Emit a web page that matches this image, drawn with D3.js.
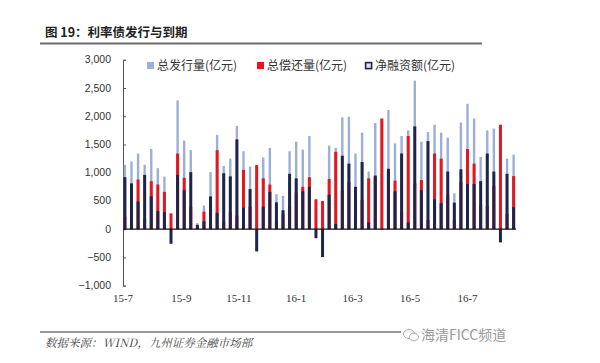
<!DOCTYPE html>
<html lang="zh">
<head>
<meta charset="UTF-8">
<title>利率债发行与到期</title>
<script src="https://d3js.org/d3.v7.min.js"></script>
<style>
  body { margin: 0; background: #fff; }
  svg { display: block; }
</style>
</head>
<body>
<svg width="600" height="363"></svg>
<script>
// weekly dates
const dates = [
  '2015-07-03','2015-07-10','2015-07-17','2015-07-24','2015-07-31',
  '2015-08-07','2015-08-14','2015-08-21','2015-08-28',
  '2015-09-04','2015-09-11','2015-09-18','2015-09-25',
  '2015-10-02','2015-10-09','2015-10-16','2015-10-23','2015-10-30',
  '2015-11-06','2015-11-13','2015-11-20','2015-11-27',
  '2015-12-04','2015-12-11','2015-12-18','2015-12-25',
  '2016-01-01','2016-01-08','2016-01-15','2016-01-22','2016-01-29',
  '2016-02-05','2016-02-12','2016-02-19','2016-02-26',
  '2016-03-04','2016-03-11','2016-03-18','2016-03-25',
  '2016-04-01','2016-04-08','2016-04-15','2016-04-22','2016-04-29',
  '2016-05-06','2016-05-13','2016-05-20','2016-05-27',
  '2016-06-03','2016-06-10','2016-06-17','2016-06-24',
  '2016-07-01','2016-07-08','2016-07-15','2016-07-22','2016-07-29',
  '2016-08-05','2016-08-12','2016-08-19'
];

// 总发行量(亿元)
const issuance = [
  1140, 1200, 1340, 1140, 1420, 1080, 930, 20, 2280, 1570,
  1400, 106, 420, 1010, 1670, 1120, 1250, 1830, 1380, 1110,
  740, 1270, 1440, 620, 590, 1380, 1550, 1410, 1650, 370,
  10, 1480, 1440, 1980, 1990, 1340, 1710, 1020, 1880, 1950,
  2110, 1520, 1650, 1750, 2630, 1550, 1720, 1850, 1710, 1620,
  635, 1890, 2220, 1960, 1280, 1750, 1780, 1620, 1250, 1320
];

// 总偿还量(亿元)
const repayment = [
  220, 390, 880, 180, 850, 790, 660, 280, 1340, 910,
  390, 30, 310, 430, 1400, 130, 310, 240, 1050, 400,
  1135, 900, 790, 140, 255, 400, 650, 750, 920, 530,
  500, 890, 1370, 680, 830, 590, 520, 900, 930, 1960,
  1040, 860, 310, 1650, 810, 870, 160, 1340, 1250, 600,
  165, 830, 1420, 1160, 430, 410, 760, 1850, 270, 940
];

// 净融资额(亿元)
const netFinancing = [
  920, 810, 490, 960, 580, 320, 300, -260, 960, 690,
  1010, 76, 140, 580, 290, 990, 935, 1590, 380, 710,
  -395, 400, 660, 475, 335, 980, 900, 670, 750, -160,
  -495, 610, 90, 1300, 1160, 750, 1190, 120, 950, -10,
  1070, 670, 1340, 120, 1820, 690, 1560, 530, 460, 1020,
  470, 1060, 800, 800, 850, 1340, 1020, -235, 980, 390
];

const yTicks = [3000, 2500, 2000, 1500, 1000, 500, 0, -500, -1000];
const xTickDates = ['2015-07-01','2015-09-01','2015-11-01','2016-01-01','2016-03-01','2016-05-01','2016-07-01'];
const xTickLabels = ['15-7','15-9','15-11','16-1','16-3','16-5','16-7'];

const colors = { issue: '#9cb0d5', repay: '#e3171f', net: '#1d2649' };

const parse = d3.timeParse('%Y-%m-%d');
const rows = dates.map((d, i) => ({
  date: parse(d),
  issue: issuance[i],
  repay: repayment[i],
  net: netFinancing[i]
}));

const svg = d3.select('svg');

// title
svg.append('text')
  .attr('x', 45).attr('y', 37)
  .attr('font-family', '"Noto Sans CJK SC", sans-serif')
  .attr('font-size', '12.5px')
  .attr('font-weight', 'bold')
  .attr('fill', '#222')
  .text('图 19：利率债发行与到期');
svg.append('line')
  .attr('x1', 40).attr('x2', 482).attr('y1', 43.5).attr('y2', 43.5)
  .attr('stroke', '#6b6b6b').attr('stroke-width', 2);

const x = d3.scaleTime()
  .domain([parse('2015-07-01'), parse('2016-07-01')])
  .range([123, 467.5]);

const y = d3.scaleLinear()
  .domain([-1000, 3000])
  .range([285.6, 59.8]);

const plot = svg.append('g');

// y axis
const yAxis = plot.append('g')
  .attr('transform', 'translate(123,0)')
  .call(d3.axisRight(y).tickValues(yTicks).tickSize(3).tickFormat(''));
yAxis.select('.domain').attr('stroke', '#555');
yAxis.selectAll('.tick line').attr('stroke', '#555');

plot.append('g').selectAll('text')
  .data(yTicks)
  .enter().append('text')
  .attr('x', 111)
  .attr('y', d => y(d) + 3.5)
  .attr('text-anchor', 'end')
  .attr('font-family', '"Liberation Sans", Arial, sans-serif')
  .attr('font-size', '10.5px')
  .attr('fill', '#333')
  .text(d => d3.format(',')(d));

// bars
const barW = 3;
plot.append('g').selectAll('rect')
  .data(rows)
  .enter().append('rect')
  .attr('x', d => x(d.date) - 1.2)
  .attr('width', 2.4)
  .attr('y', d => y(Math.max(0, d.issue)))
  .attr('height', d => Math.abs(y(d.issue) - y(0)))
  .attr('fill', colors.issue);

plot.append('g').selectAll('rect')
  .data(rows)
  .enter().append('rect')
  .attr('x', d => x(d.date) - barW / 2)
  .attr('width', barW)
  .attr('y', d => y(Math.max(0, d.repay)))
  .attr('height', d => Math.abs(y(d.repay) - y(0)))
  .attr('fill', colors.repay);

plot.append('g').selectAll('rect')
  .data(rows)
  .enter().append('rect')
  .attr('x', d => x(d.date) - barW / 2)
  .attr('width', barW)
  .attr('y', d => y(Math.max(0, d.net)))
  .attr('height', d => Math.abs(y(d.net) - y(0)))
  .attr('fill', colors.net);

// zero line
plot.append('line')
  .attr('x1', 123).attr('x2', 516)
  .attr('y1', y(0)).attr('y2', y(0))
  .attr('stroke', '#111').attr('stroke-width', 1.2);

// x labels
plot.append('g').selectAll('text')
  .data(xTickDates)
  .enter().append('text')
  .attr('x', d => x(parse(d)))
  .attr('y', 302)
  .attr('text-anchor', 'middle')
  .attr('font-family', '"Liberation Serif", "Times New Roman", serif')
  .attr('font-size', '11px')
  .attr('fill', '#333')
  .text((d, i) => xTickLabels[i]);

// legend
const legendItems = [
  { label: '总发行量(亿元)', key: 'issue', x: 147 },
  { label: '总偿还量(亿元)', key: 'repay', x: 257 },
  { label: '净融资额(亿元)', key: 'net', x: 365 }
];
const legend = svg.append('g');
legendItems.forEach(item => {
  const g = legend.append('g').attr('transform', `translate(${item.x},62)`);
  if (item.key === 'net') {
    g.append('rect').attr('x', 0.6).attr('y', 0.6).attr('width', 6).attr('height', 6)
      .attr('fill', '#dfe4ef').attr('stroke', colors.net).attr('stroke-width', 1.6);
  } else {
    g.append('rect').attr('width', 7).attr('height', 7).attr('fill', colors[item.key]);
  }
  g.append('text')
    .attr('x', 10).attr('y', 7.5)
    .attr('font-family', '"Noto Sans CJK SC", sans-serif')
    .attr('font-size', '12px')
    .attr('fill', '#333')
    .text(item.label);
});

// footer
svg.append('line')
  .attr('x1', 40).attr('x2', 482).attr('y1', 332).attr('y2', 332)
  .attr('stroke', '#333').attr('stroke-width', 1);
svg.append('text')
  .attr('x', 45).attr('y', 347)
  .attr('font-family', '"Noto Serif CJK SC", "Noto Sans CJK SC", serif')
  .attr('font-size', '11.5px')
  .attr('font-style', 'italic')
  .attr('fill', '#444')
  .text('数据来源：WIND，九州证券金融市场部');

// watermark
const wm = svg.append('g').attr('transform', 'translate(403,327)');
wm.append('rect').attr('x', -2).attr('y', 0).attr('width', 106).attr('height', 16).attr('fill', '#fff').attr('opacity', 0.85);
wm.append('ellipse').attr('cx', 6).attr('cy', 7).attr('rx', 5.5).attr('ry', 4.5)
  .attr('fill', 'none').attr('stroke', '#a9a9a9').attr('stroke-width', 1);
wm.append('ellipse').attr('cx', 11).attr('cy', 10).attr('rx', 4.5).attr('ry', 3.8)
  .attr('fill', '#fff').attr('stroke', '#a9a9a9').attr('stroke-width', 1);
wm.append('text')
  .attr('x', 18).attr('y', 13)
  .attr('font-family', '"Noto Sans CJK SC", sans-serif')
  .attr('font-size', '14px')
  .attr('fill', '#9a9a9a')
  .text('海清FICC频道');
</script>
</body>
</html>
